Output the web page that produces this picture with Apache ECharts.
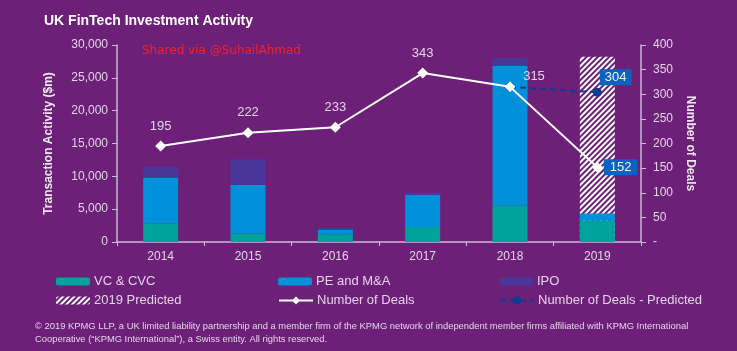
<!DOCTYPE html>
<html>
<head>
<meta charset="utf-8">
<script src="https://cdn.jsdelivr.net/npm/echarts@6/dist/echarts.min.js"></script>
<style>
html,body{margin:0;padding:0;background:#6c2077;}
#c{width:737px;height:351px;}
</style>
</head>
<body>
<div id="c"></div>
<script>
var years = ['2014','2015','2016','2017','2018','2019'];
var vcCvc = [2850, 1300, 1150, 2300, 5600, 3250];
var peMa = [6950, 7400, 700, 4850, 21200, 1100];
var ipo = [1650, 3900, 300, 350, 1250, 0];
var predicted2019 = [null, null, null, null, null, 28200];
var deals = [195, 222, 233, 343, 315, 152];
var dealsPredicted = [null, null, null, null, 315, 304];
var leftTicks = [0, 5000, 10000, 15000, 20000, 25000, 30000];
var rightTicks = [0, 50, 100, 150, 200, 250, 300, 350, 400];

var BG = '#6c2077';
var TXT = '#e4d3e9';
var AX = '#cdb9d4';
var FONT = '"Liberation Sans", Arial, sans-serif';

var chart = echarts.init(document.getElementById('c'));

function legend(name, left, top, w, h) {
  return {
    data: [name], left: left, top: top, padding: 0,
    itemWidth: w || 34, itemHeight: h || 8, itemGap: 4,
    textStyle: {color: TXT, fontSize: 13, fontFamily: FONT, padding: [0,0,0,-1]}
  };
}

var option = {
  backgroundColor: BG,
  animation: false,
  textStyle: {fontFamily: FONT},
  title: {
    text: 'UK FinTech Investment Activity', left: 39, top: 9,
    textStyle: {color: '#ffffff', fontSize: 14, fontWeight: 'bold', fontFamily: FONT}
  },
  legend: [
    legend('VC & CVC', 56, 275),
    legend('PE and M&A', 278, 275),
    legend('IPO', 499, 275),
    legend('2019 Predicted', 56, 294),
    legend('Number of Deals', 278, 294, 34, 10),
    legend('Number of Deals - Predicted', 499, 294, 34, 10)
  ],
  grid: {left: 117, right: 96, top: 45, bottom: 109},
  xAxis: {
    type: 'category', data: years,
    axisLine: {lineStyle: {color: AX, width: 1.5}},
    axisTick: {show: true, length: 4, lineStyle: {color: AX}},
    axisLabel: {color: TXT, fontSize: 12, margin: 9}
  },
  yAxis: [
    {
      type: 'value', min: 0, max: 30000, interval: 5000,
      name: 'Transaction Activity ($m)', nameLocation: 'middle', nameGap: 62, nameRotate: 90,
      nameTextStyle: {color: '#f2e8f4', fontSize: 12, fontWeight: 'bold'},
      axisLine: {show: true, lineStyle: {color: AX, width: 1.5}},
      axisTick: {show: true, length: 5, lineStyle: {color: AX}},
      splitLine: {show: false},
      axisLabel: {color: TXT, fontSize: 12, margin: 9,
        formatter: function (v) { return v.toLocaleString('en-US'); }}
    },
    {
      type: 'value', min: 0, max: 400, interval: 50,
      name: 'Number of Deals', nameLocation: 'middle', nameGap: 40, nameRotate: -90,
      nameTextStyle: {color: '#f2e8f4', fontSize: 12, fontWeight: 'bold'},
      axisLine: {show: true, lineStyle: {color: AX, width: 1.5}},
      axisTick: {show: true, length: 5, lineStyle: {color: AX}},
      splitLine: {show: false},
      axisLabel: {color: TXT, fontSize: 12, margin: 12,
        formatter: function (v) { return v === 0 ? '-' : String(v); }}
    }
  ],
  series: [
    {
      name: '2019 Predicted', type: 'bar', data: predicted2019, barWidth: 35, barGap: '-100%',
      itemStyle: {
        color: BG,
        decal: {symbol: 'rect', symbolSize: 1, dashArrayX: [1, 0], dashArrayY: [1.6, 1.6],
          rotation: -Math.PI / 4, color: '#ffffff', backgroundColor: BG}
      },
      z: 1
    },
    {name: 'VC & CVC', type: 'bar', stack: 'a', data: vcCvc, barWidth: 35, itemStyle: {color: '#00a39c'}, z: 2},
    {name: 'PE and M&A', type: 'bar', stack: 'a', data: peMa, barWidth: 35, itemStyle: {color: '#0091da'}, z: 2},
    {name: 'IPO', type: 'bar', stack: 'a', data: ipo, barWidth: 35, itemStyle: {color: '#483698'}, z: 2},
    {
      name: 'Number of Deals', type: 'line', yAxisIndex: 1, z: 5,
      data: deals.map(function (v, i) {
        var d = {value: v};
        if (i === 4) d.label = {offset: [24, 10]};
        if (i === 5) d.label = {position: 'right', distance: 1, offset: [0, 0],
          backgroundColor: '#0a63c0', color: '#f2f2f2', padding: [2, 6, 1, 6]};
        return d;
      }),
      symbol: 'diamond', symbolSize: 11,
      lineStyle: {color: '#ffffff', width: 2},
      itemStyle: {color: '#ffffff'},
      label: {show: true, position: 'top', distance: 8, color: TXT, fontSize: 13}
    },
    {
      name: 'Number of Deals - Predicted', type: 'line', yAxisIndex: 1, z: 4,
      data: dealsPredicted.map(function (v, i) {
        var d = {value: v};
        if (i === 5) d.label = {show: true, position: 'right', distance: 0, offset: [-2, -15],
          backgroundColor: '#0a63c0', color: '#f2f2f2', padding: [2, 5, 1, 5], fontSize: 13};
        return d;
      }),
      symbol: 'circle', symbolSize: 9,
      lineStyle: {color: '#0b3c93', width: 2, type: [6, 4]},
      itemStyle: {color: '#0b3c93'},
      label: {show: false}
    }
  ],
  graphic: [
    {type: 'text', left: 142, top: 45, style: {text: 'Shared via @SuhailAhmad', fill: '#f0232b', fontSize: 12, fontFamily: '"DejaVu Sans", sans-serif'}},
    {type: 'text', left: 35, top: 322, style: {text: '© 2019 KPMG LLP, a UK limited liability partnership and a member firm of the KPMG network of independent member firms affiliated with KPMG International', fill: TXT, fontSize: 9.4, fontFamily: FONT}},
    {type: 'text', left: 35, top: 335, style: {text: 'Cooperative (“KPMG International”), a Swiss entity. All rights reserved.', fill: TXT, fontSize: 9.4, fontFamily: FONT}}
  ]
};
chart.setOption(option);
</script>
</body>
</html>
